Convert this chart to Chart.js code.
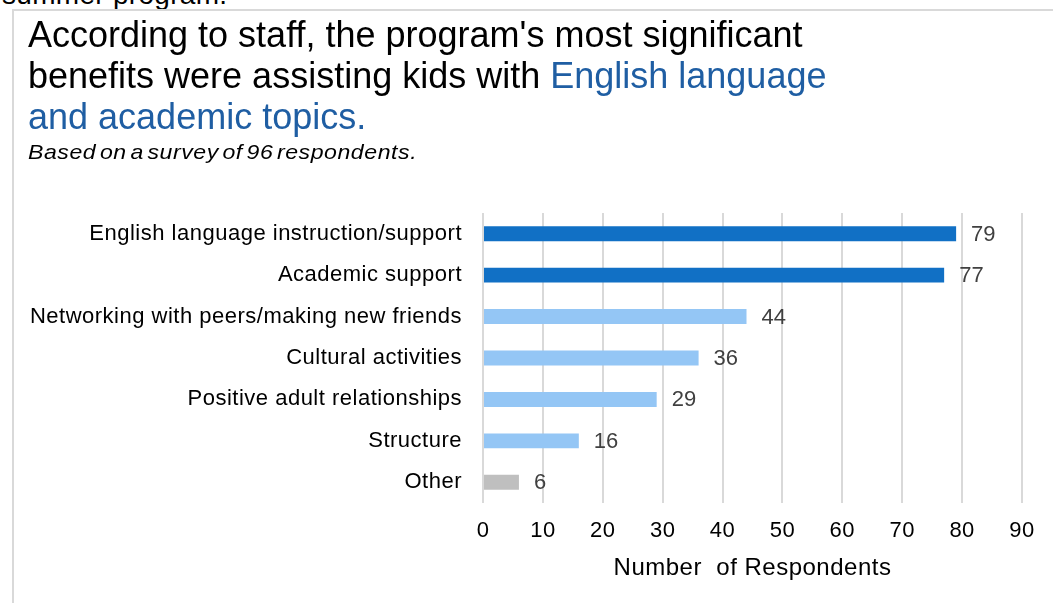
<!DOCTYPE html>
<html>
<head>
<meta charset="utf-8">
<script src="https://cdn.jsdelivr.net/npm/chart.js@4"></script>
<style>
  html, body { margin: 0; padding: 0; background: #fff; }
  body { width: 1053px; height: 603px; overflow: hidden; position: relative; font-family: "Liberation Sans", Arial, sans-serif; }
  #prev { position: absolute; left: 2px; top: -21px; font-size: 28px; line-height: 32px; letter-spacing: 0.3px; color: #000; white-space: nowrap; }
  #frame { position: absolute; left: 12px; top: 9px; width: 1060px; height: 620px; border-top: 2px solid #d9d9d9; border-left: 2px solid #d9d9d9; }
  #chart { position: absolute; left: 0; top: 0; }
  #title { position: absolute; left: 28px; top: 14px; font-size: 36px; line-height: 41px; color: #000; white-space: nowrap; }
  #title .hl { color: #1f5ea3; }
  #sub { position: absolute; left: 28px; top: 140px; font-size: 21px; line-height: 24px; font-style: italic; letter-spacing: 0.5px; word-spacing: -3px; color: #000; white-space: nowrap; transform: scaleX(1.1); transform-origin: left top; }
</style>
</head>
<body>
<div id="prev">summer program.</div>
<div id="frame"></div>
<canvas id="chart" width="1053" height="603"></canvas>
<div id="title">According to staff, the program's most significant<br>benefits were assisting kids with <span class="hl">English language<br>and academic topics.</span></div>
<div id="sub">Based on a survey of 96 respondents.</div>
<script>
const CATEGORIES = [
  'English language instruction/support',
  'Academic support',
  'Networking with peers/making new friends',
  'Cultural activities',
  'Positive adult relationships',
  'Structure',
  'Other'
];
const RESPONDENTS = [79, 77, 44, 36, 29, 16, 6];
const BAR_COLORS = ['#1170c5', '#1170c5', '#94c6f5', '#94c6f5', '#94c6f5', '#94c6f5', '#bfbfbf'];
const X_MAX = 90;
const X_STEP = 10;

const FONT = '"Liberation Sans", Arial, sans-serif';

// slightly looser text for the axis labels
const looseText = {
  id: 'looseText',
  beforeLayout(chart) { chart.ctx.letterSpacing = '0.5px'; },
  beforeDraw(chart) { chart.ctx.letterSpacing = '0.5px'; }
};

// writes the count just past the end of each bar
const valueLabels = {
  id: 'valueLabels',
  afterDatasetsDraw(chart) {
    const ctx = chart.ctx;
    const meta = chart.getDatasetMeta(0);
    ctx.save();
    ctx.letterSpacing = '0px';
    ctx.font = '22px ' + FONT;
    ctx.fillStyle = '#404040';
    ctx.textAlign = 'left';
    ctx.textBaseline = 'middle';
    meta.data.forEach((bar, i) => {
      ctx.fillText(String(RESPONDENTS[i]), bar.x + 15, bar.y + 1);
    });
    ctx.restore();
  }
};

new Chart(document.getElementById('chart'), {
  type: 'bar',
  data: {
    labels: CATEGORIES,
    datasets: [{
      data: RESPONDENTS,
      backgroundColor: BAR_COLORS,
      borderWidth: 0,
      barPercentage: 0.36,
      categoryPercentage: 1
    }]
  },
  options: {
    indexAxis: 'y',
    responsive: false,
    animation: false,
    layout: { padding: { top: 213, right: 31, left: 0, bottom: 0 } },
    plugins: {
      legend: { display: false },
      tooltip: { enabled: false }
    },
    scales: {
      x: {
        min: 0,
        max: X_MAX,
        afterFit: s => { s.height = 100; },
        border: { display: false },
        grid: { color: '#d9d9d9', lineWidth: 2, drawTicks: false },
        ticks: { stepSize: X_STEP, color: '#000', padding: 15, font: { family: FONT, size: 22 } },
        title: {
          display: true,
          text: 'Number  of Respondents',
          color: '#000',
          font: { family: FONT, size: 24 },
          padding: { top: 0, bottom: 20 }
        }
      },
      y: {
        afterFit: s => { s.width = 483; },
        border: { display: false },
        grid: { display: false, drawTicks: false },
        ticks: { color: '#000', padding: 21, font: { family: FONT, size: 22 } }
      }
    }
  },
  plugins: [looseText, valueLabels]
});
</script>
</body>
</html>
